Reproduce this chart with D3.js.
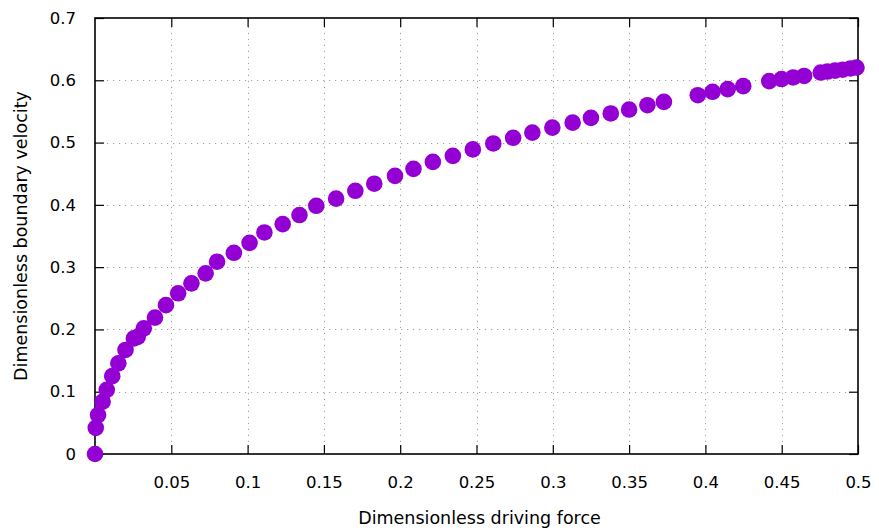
<!DOCTYPE html>
<html>
<head>
<meta charset="utf-8">
<script src="https://cdn.jsdelivr.net/npm/d3@7"></script>
<style>
  html, body { margin: 0; padding: 0; background: #fff; }
  svg { display: block; }
  text { font-family: "DejaVu Sans", sans-serif; fill: #000; }
</style>
</head>
<body>
<svg id="chart" width="879" height="531"></svg>
<script>
// Driving force (x) and boundary velocity (y), both dimensionless
const drivingForce = [
  0.0, 0.0005, 0.002, 0.005, 0.0077, 0.0113, 0.0153, 0.020, 0.0255, 0.028,
  0.032, 0.0393, 0.0465, 0.0545, 0.0632, 0.0725, 0.080, 0.091, 0.1013, 0.111,
  0.123, 0.134, 0.145, 0.158, 0.1706, 0.183, 0.1966, 0.2087, 0.2214, 0.2345,
  0.2476, 0.261, 0.274, 0.2866, 0.2997, 0.313, 0.325, 0.338, 0.350, 0.362,
  0.3728, 0.395, 0.4047, 0.4146, 0.4248, 0.4418, 0.4499, 0.4575, 0.4647, 0.4756,
  0.480, 0.485, 0.490, 0.495, 0.499
];
const boundaryVelocity = [
  0.0, 0.042, 0.0626, 0.084, 0.103, 0.125, 0.1455, 0.167, 0.1856, 0.188,
  0.2017, 0.219, 0.239, 0.258, 0.274, 0.290, 0.3087, 0.323, 0.339, 0.3557,
  0.369, 0.3836, 0.3985, 0.410, 0.4226, 0.434, 0.4466, 0.4578, 0.469, 0.4787,
  0.489, 0.4986, 0.5077, 0.516, 0.524, 0.532, 0.5397, 0.5467, 0.553, 0.560,
  0.5653, 0.576, 0.5815, 0.5858, 0.5906, 0.5987, 0.602, 0.6045, 0.607, 0.6124,
  0.614, 0.6155, 0.617, 0.619, 0.6205
];
const xTicks = [0.05, 0.1, 0.15, 0.2, 0.25, 0.3, 0.35, 0.4, 0.45, 0.5];
const yTicks = [0, 0.1, 0.2, 0.3, 0.4, 0.5, 0.6, 0.7];
const xTitle = "Dimensionless driving force";
const yTitle = "Dimensionless boundary velocity";

const svg = d3.select("#chart");
const plotLeft = 95, plotRight = 858, plotTop = 18, plotBottom = 454;

const x = d3.scaleLinear().domain([0, 0.5]).range([plotLeft, plotRight]);
const y = d3.scaleLinear().domain([0, 0.7]).range([plotBottom, plotTop]);

// Dotted grid
const grid = svg.append("g").attr("stroke", "#a0a0a0").attr("stroke-width", 1)
  .attr("stroke-dasharray", "1.2,4.8");
grid.selectAll("line.gx").data(xTicks.filter(t => t < 0.5)).join("line")
  .attr("x1", d => Math.round(x(d)) + 0.5).attr("x2", d => Math.round(x(d)) + 0.5)
  .attr("y1", plotBottom).attr("y2", plotTop);
grid.selectAll("line.gy").data(yTicks.filter(t => t > 0 && t < 0.7)).join("line")
  .attr("y1", d => Math.round(y(d)) + 0.5).attr("y2", d => Math.round(y(d)) + 0.5)
  .attr("x1", plotLeft).attr("x2", plotRight);

// Axes with inward ticks, mirrored on top and right
const tickLen = 9;
const fmt = d3.format("");
const axB = svg.append("g").attr("transform", `translate(0,${plotBottom})`)
  .call(d3.axisBottom(x).tickValues(xTicks).tickSize(-tickLen).tickPadding(tickLen + 13).tickFormat(d => fmt(d)));
const axT = svg.append("g").attr("transform", `translate(0,${plotTop})`)
  .call(d3.axisTop(x).tickValues(xTicks).tickSize(-tickLen).tickFormat(""));
const axL = svg.append("g").attr("transform", `translate(${plotLeft},0)`)
  .call(d3.axisLeft(y).tickValues(yTicks).tickSize(-tickLen).tickPadding(tickLen + 10).tickFormat(d => fmt(d)));
const axR = svg.append("g").attr("transform", `translate(${plotRight},0)`)
  .call(d3.axisRight(y).tickValues(yTicks).tickSize(-tickLen).tickFormat(""));
[axB, axT, axL, axR].forEach(g => {
  g.select(".domain").remove();
  g.selectAll(".tick line").attr("stroke", "#000").attr("stroke-width", 1.2);
  g.selectAll("text").attr("font-family", "DejaVu Sans, sans-serif").attr("font-size", 16.5).attr("fill", "#000");
});

// Plot border
svg.append("rect").attr("x", plotLeft).attr("y", plotTop)
  .attr("width", plotRight - plotLeft).attr("height", plotBottom - plotTop)
  .attr("fill", "none").attr("stroke", "#000").attr("stroke-width", 1.6);

// Data points
const pts = drivingForce.map((d, i) => [d, boundaryVelocity[i]]);
svg.append("g").selectAll("circle").data(pts).join("circle")
  .attr("cx", d => x(d[0])).attr("cy", d => y(d[1]))
  .attr("r", 8.3).attr("fill", "#9400d3");

// Axis titles
svg.append("text").attr("x", (plotLeft + plotRight) / 2 + 3).attr("y", 524)
  .attr("text-anchor", "middle").attr("font-size", 17.5).text(xTitle);
svg.append("text").attr("transform", `translate(27,${(plotTop + plotBottom) / 2}) rotate(-90)`)
  .attr("text-anchor", "middle").attr("font-size", 17.5).text(yTitle);
</script>
</body>
</html>
